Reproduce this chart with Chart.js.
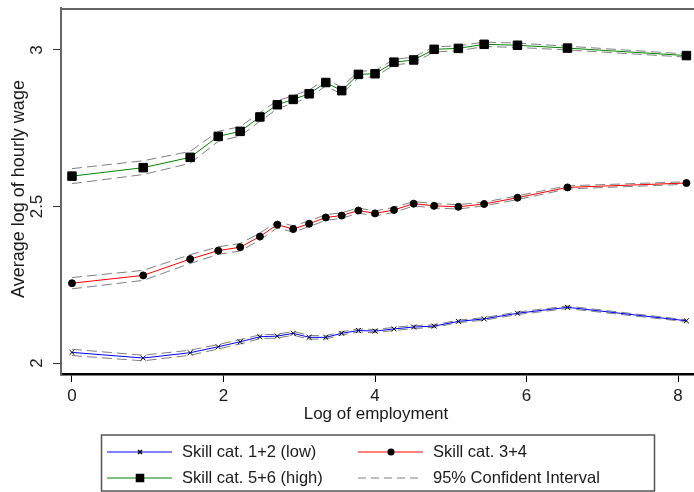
<!DOCTYPE html>
<html>
<head>
<meta charset="utf-8">
<script src="https://cdn.jsdelivr.net/npm/chart.js@4.4.1/dist/chart.umd.min.js"></script>
<style>
  html, body { margin: 0; padding: 0; background: #fff; }
  #wrap { width: 694px; height: 492px; position: relative; }
</style>
</head>
<body>
<div id="wrap"><canvas id="chart" width="694" height="492"></canvas></div>
<script>
// Data
const logEmployment = [0, 0.94, 1.56, 1.93, 2.22, 2.48, 2.71, 2.92, 3.13, 3.35, 3.56, 3.78, 4.00, 4.25, 4.51, 4.78, 5.10, 5.44, 5.88, 6.54, 8.11];

const lowSkill  = [2.034, 2.016, 2.033, 2.052, 2.068, 2.084, 2.086, 2.095, 2.082, 2.082, 2.095, 2.104, 2.102, 2.109, 2.115, 2.118, 2.133, 2.141, 2.159, 2.178, 2.135];
const midSkill  = [2.255, 2.280, 2.332, 2.359, 2.370, 2.404, 2.442, 2.428, 2.445, 2.465, 2.471, 2.487, 2.478, 2.489, 2.509, 2.502, 2.499, 2.508, 2.528, 2.561, 2.575];
const highSkill = [2.597, 2.624, 2.657, 2.724, 2.740, 2.786, 2.825, 2.842, 2.860, 2.896, 2.870, 2.922, 2.924, 2.961, 2.968, 3.002, 3.005, 3.018, 3.015, 3.006, 2.982];

// half width of the 95% confidence band
const lowCI  = [0.010, 0.009, 0.008, 0.007, 0.007, 0.006, 0.006, 0.006, 0.006, 0.005, 0.005, 0.005, 0.005, 0.005, 0.005, 0.004, 0.004, 0.004, 0.004, 0.004, 0.003];
const midCI  = [0.018, 0.016, 0.014, 0.012, 0.012, 0.011, 0.010, 0.010, 0.009, 0.009, 0.009, 0.008, 0.008, 0.008, 0.007, 0.007, 0.007, 0.006, 0.006, 0.005, 0.004];
const highCI = [0.024, 0.022, 0.019, 0.016, 0.015, 0.014, 0.013, 0.012, 0.012, 0.011, 0.011, 0.010, 0.010, 0.009, 0.009, 0.008, 0.008, 0.007, 0.007, 0.006, 0.005];

const xTicks = [0, 2, 4, 6, 8];
const yTicks = [2, 2.5, 3];
const yTickLabels = ['2', '2.5', '3'];

const seriesLabels = ['Skill cat. 1+2 (low)', 'Skill cat. 3+4', 'Skill cat. 5+6 (high)'];
const ciLabel = '95% Confident Interval';

const FONT = '"Liberation Sans", Arial, sans-serif';
const TEXT = '#1a1a1a';
const CI_GRAY = '#7f7f7f';

function points(ys, offs, sign) {
  return logEmployment.map((x, i) => ({ x, y: ys[i] + (offs ? sign * offs[i] : 0) }));
}

function ciLine(ys, offs, sign) {
  return {
    data: points(ys, offs, sign),
    showLine: true,
    borderColor: CI_GRAY,
    borderWidth: 1,
    borderDash: [10, 5],
    pointRadius: 0,
    order: 1
  };
}

const seriesStyles = [
  { color: '#0000ff', pointStyle: 'crossRot', radius: 3.5 },
  { color: '#ff0000', pointStyle: 'circle', radius: 3.5 },
  { color: '#008000', pointStyle: 'rect', radius: 6 }
];

function mainLine(ys, idx) {
  const s = seriesStyles[idx];
  return {
    label: seriesLabels[idx],
    data: points(ys),
    showLine: true,
    borderColor: s.color,
    borderWidth: 1,
    pointStyle: s.pointStyle,
    pointRadius: s.radius,
    pointBackgroundColor: '#000',
    pointBorderColor: '#000',
    pointBorderWidth: 1,
    order: 0
  };
}

const datasets = [
  ciLine(lowSkill, lowCI, 1), ciLine(lowSkill, lowCI, -1),
  ciLine(midSkill, midCI, 1), ciLine(midSkill, midCI, -1),
  ciLine(highSkill, highCI, 1), ciLine(highSkill, highCI, -1),
  mainLine(lowSkill, 0), mainLine(midSkill, 1), mainLine(highSkill, 2)
];

// frame, rotated y labels, axis titles and legend
const decorations = {
  id: 'decorations',
  afterDraw(chart) {
    const ctx = chart.ctx;
    const area = chart.chartArea;
    const y = chart.scales.y;

    ctx.save();
    // top border
    ctx.strokeStyle = '#666';
    ctx.lineWidth = 2;
    ctx.beginPath();
    ctx.moveTo(area.left, area.top + 1);
    ctx.lineTo(chart.width, area.top + 1);
    ctx.stroke();

    // y tick labels, rotated
    ctx.fillStyle = TEXT;
    ctx.font = '17px ' + FONT;
    ctx.textAlign = 'center';
    ctx.textBaseline = 'middle';
    yTicks.forEach((v, i) => {
      ctx.save();
      ctx.translate(37, y.getPixelForValue(v));
      ctx.rotate(-Math.PI / 2);
      ctx.fillText(yTickLabels[i], 0, 0);
      ctx.restore();
    });

    // y title
    ctx.save();
    ctx.font = '18px ' + FONT;
    ctx.translate(19, 189);
    ctx.rotate(-Math.PI / 2);
    ctx.fillText('Average log of hourly wage', 0, 0);
    ctx.restore();

    // x title
    ctx.font = '17px ' + FONT;
    ctx.fillText('Log of employment', 376, 414);

    // legend box
    ctx.strokeStyle = '#555';
    ctx.lineWidth = 1.5;
    ctx.strokeRect(101.5, 435, 553, 56);

    const items = [
      { ds: datasets[6], x: 107, y: 452, text: seriesLabels[0] },
      { ds: datasets[7], x: 358, y: 452, text: seriesLabels[1] },
      { ds: datasets[8], x: 107, y: 478, text: seriesLabels[2] },
      { ds: datasets[0], x: 358, y: 478, text: ciLabel, dashed: true }
    ];
    ctx.font = '16.5px ' + FONT;
    ctx.textAlign = 'left';
    items.forEach(it => {
      ctx.save();
      ctx.strokeStyle = it.ds.borderColor;
      ctx.lineWidth = 1;
      if (it.dashed) ctx.setLineDash([8, 5]);
      ctx.beginPath();
      ctx.moveTo(it.x, it.y);
      ctx.lineTo(it.x + 65, it.y);
      ctx.stroke();
      ctx.restore();
      if (!it.dashed) {
        ctx.fillStyle = '#000';
        ctx.strokeStyle = '#000';
        const r = it.ds.pointStyle === 'rect' ? 5 : it.ds.pointRadius * 0.8;
        Chart.helpers.drawPoint(ctx, { pointStyle: it.ds.pointStyle, radius: r, borderWidth: 1 }, it.x + 33, it.y);
      }
      ctx.fillStyle = TEXT;
      ctx.fillText(it.text, it.x + 75, it.y);
    });
    ctx.restore();
  }
};

new Chart(document.getElementById('chart'), {
  type: 'scatter',
  data: { datasets },
  options: {
    responsive: false,
    animation: false,
    layout: { autoPadding: false, padding: { top: 8, left: 0, right: 0, bottom: 0 } },
    plugins: { legend: { display: false }, tooltip: { enabled: false } },
    scales: {
      x: {
        type: 'linear',
        min: -0.145,
        max: 8.21,
        afterBuildTicks: s => { s.ticks = xTicks.map(v => ({ value: v })); },
        afterFit: s => { s.height = 118; s.paddingLeft = 0; s.paddingRight = 0; },
        ticks: { color: TEXT, font: { family: FONT, size: 17 }, padding: 4, maxRotation: 0 },
        grid: { drawOnChartArea: false, drawTicks: true, tickLength: 8, color: '#000' },
        border: { color: '#000', width: 2.5 }
      },
      y: {
        type: 'linear',
        min: 1.965,
        max: 3.134,
        afterBuildTicks: s => { s.ticks = yTicks.map(v => ({ value: v })); },
        afterFit: s => { s.width = 61; s.paddingTop = 0; s.paddingBottom = 0; },
        ticks: { display: false },
        grid: { drawOnChartArea: false, drawTicks: true, tickLength: 8, color: '#333' },
        border: { color: '#666', width: 2 }
      }
    }
  },
  plugins: [decorations]
});
</script>
</body>
</html>
